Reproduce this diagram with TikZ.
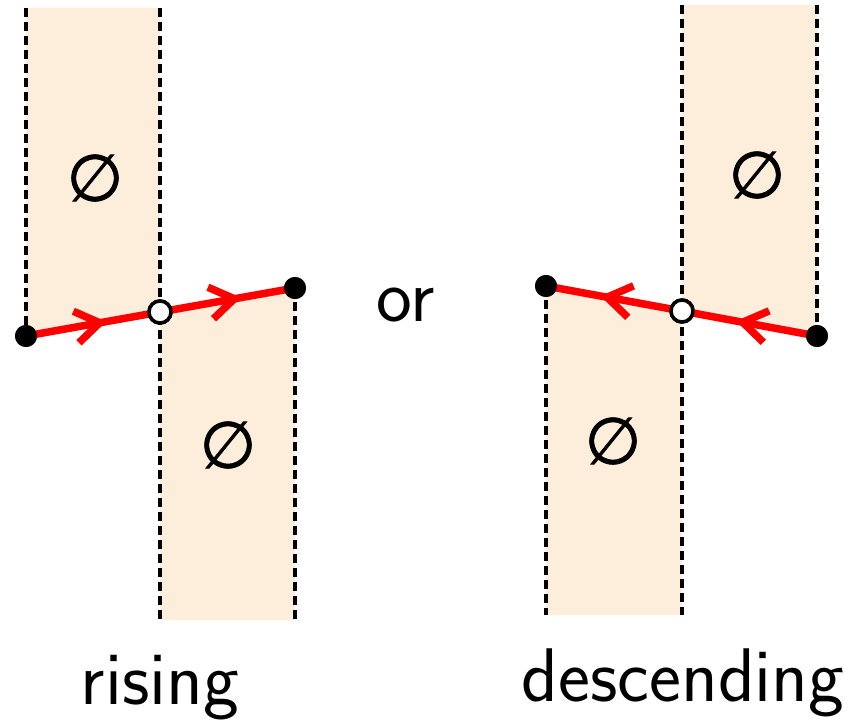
\documentclass[tikz,border=0pt]{standalone}
\usepackage{fontspec}
\newfontfamily\symfont[FakeBold=1.2]{DejaVu Sans}
\usetikzlibrary{arrows.meta,decorations.markings}
\definecolor{peach}{RGB}{253,238,220}
\tikzset{
  region/.style={fill=peach, draw=none},
  guide/.style={draw=black, line width=3.2pt, dash pattern=on 9pt off 5pt},
  seg/.style={draw=red, line width=7.5pt,
    postaction={decorate, decoration={markings,
      mark=at position 0.6 with {\arrow{Straight Barb[length=24pt,width=32pt,line width=7.5pt]}}}}},
  fulldot/.style={circle, fill=black, inner sep=0pt, minimum size=22pt},
  opendot/.style={circle, fill=white, draw=black, line width=3.5pt, inner sep=0pt, minimum size=22pt},
  empty/.style={font=\symfont\fontsize{65}{75}\selectfont, inner sep=0pt},
  lbl/.style={font=\sffamily\fontsize{76}{90}\selectfont, inner sep=0pt}
}
\begin{document}
\begin{tikzpicture}[x=1pt,y=-1pt]
\useasboundingbox (0,0) rectangle (865,725);
% rising
\fill[region] (26,8) -- (160,8) -- (160,312) -- (26,336) -- cycle;
\fill[region] (160,312) -- (295,288) -- (295,620) -- (160,620) -- cycle;
\coordinate (ra) at (26,8);
\coordinate (rb) at (160,8);
\coordinate (rc) at (160,620);
\coordinate (rd) at (295,620);
\node[fulldot] (r1) at (26,336) {};
\node[opendot] (r2) at (160,312) {};
\node[fulldot] (r3) at (295,288) {};
\draw[guide] (ra) -- (r1.center);
\draw[guide] (rb) -- (rc);
\draw[guide] (r3.center) -- (rd);
\draw[seg] (r1.center) -- (r2.center);
\draw[seg] (r2.center) -- (r3.center);
\node[fulldot] at (r1) {};
\node[opendot] at (r2) {};
\node[fulldot] at (r3) {};
\node[empty] (re1) at (95,178) {∅};
\node[empty] (re2) at (228,445) {∅};
\node[lbl] (rl) at (160,688) {rising};
% or
\node[lbl] (or) at (406,305) {or};
% descending
\fill[region] (682,5) -- (817,5) -- (817,336) -- (682,311) -- cycle;
\fill[region] (546,286) -- (682,311) -- (682,615) -- (546,615) -- cycle;
\coordinate (da) at (682,5);
\coordinate (db) at (817,5);
\coordinate (dc) at (682,615);
\coordinate (dd) at (546,615);
\node[fulldot] (d1) at (546,286) {};
\node[opendot] (d2) at (682,311) {};
\node[fulldot] (d3) at (817,336) {};
\draw[guide] (da) -- (dc);
\draw[guide] (db) -- (d3.center);
\draw[guide] (d1.center) -- (dd);
\draw[seg] (d3.center) -- (d2.center);
\draw[seg] (d2.center) -- (d1.center);
\node[fulldot] at (d1) {};
\node[opendot] at (d2) {};
\node[fulldot] at (d3) {};
\node[empty] (de1) at (757,175) {∅};
\node[empty] (de2) at (613,441) {∅};
\node[lbl] (dl) at (683,683) {descending};
\end{tikzpicture}
\end{document}
